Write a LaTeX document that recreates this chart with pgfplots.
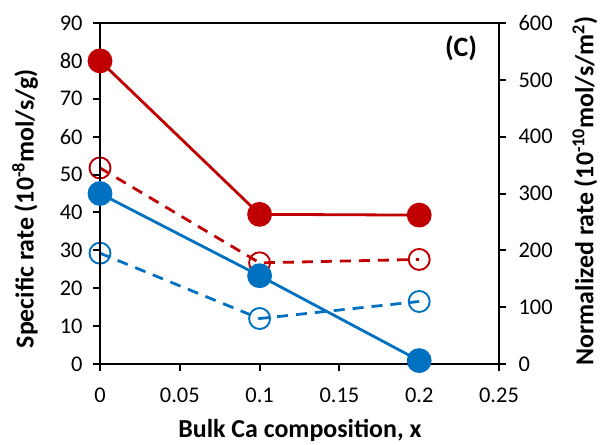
\documentclass[border=0pt]{standalone}
\usepackage{pgfplots}
\pgfplotsset{compat=1.18}
\usepackage{fontspec}
\setmainfont{Carlito}
\definecolor{cred}{HTML}{C00000}
\definecolor{cblue}{HTML}{0070C0}
\begin{document}
\begin{tikzpicture}
\useasboundingbox (-100bp,-81bp) rectangle (501bp,364bp);
\pgfplotsset{
  every axis/.append style={
    scale only axis, width=399bp, height=341bp,
    at={(0,0)}, anchor=south west,
    xmin=0, xmax=0.25, 
    tick align=outside, major tick length=7bp,
    every tick/.style={black, line width=2bp},
    axis line style={line width=2bp},
    tick label style={font=\fontsize{22.5}{26}\selectfont},
    label style={font=\bfseries\fontsize{26}{30}\selectfont},
    /pgf/number format/assume math mode=true,
  },
}
% right axis (normalized rate)
\begin{axis}[
  axis x line=none, axis y line*=right,
  ymin=0, ymax=600, ytick={0,100,...,600},
  yticklabel style={xshift=9bp},
  ylabel={Normalized rate (10\textsuperscript{-10}mol/s/m\textsuperscript{2})},
  ylabel style={at={(axis description cs:1.2155,0.508)}, anchor=center, rotate=0},
]
\addplot[cred, line width=2.8bp, dash pattern=on 11bp off 8bp, mark=o,
  mark options={solid, line width=1.9bp, fill=none}, mark size=10.5bp]
  coordinates {(0,345) (0.1,178) (0.2,184)};
\addplot[cblue, line width=2.8bp, dash pattern=on 11bp off 8bp, mark=o,
  mark options={solid, line width=1.9bp, fill=none}, mark size=10.5bp]
  coordinates {(0,195) (0.1,80) (0.2,110)};
\end{axis}
% left axis (specific rate)
\begin{axis}[
  ymin=0, ymax=90, ytick={0,10,...,90},
  xtick={0,0.05,0.1,0.15,0.2,0.25},
  xticklabels={0,0.05,0.1,0.15,0.2,0.25},
  xtick pos=bottom, ytick pos=left,
  xticklabel style={yshift=-13bp},
  yticklabel style={xshift=-7bp},
  xlabel={Bulk Ca composition, x},
  xlabel style={at={(axis description cs:0.501,-0.196)}, anchor=center},
  ylabel={Specific rate (10\textsuperscript{-8}mol/s/g)},
  ylabel style={at={(axis description cs:-0.188,0.455)}, anchor=center, rotate=0},
  clip=false,
]
\addplot[cred, line width=2.8bp, mark=*, mark size=11bp,
  mark options={fill=cred, draw=cred}]
  coordinates {(0,80) (0.1,39.5) (0.2,39.3)};
\addplot[cblue, line width=2.8bp, mark=*, mark size=11bp,
  mark options={fill=cblue, draw=cblue}]
  coordinates {(0,45) (0.1,23.3) (0.2,0.9)};
\node[font=\bfseries\fontsize{28}{32}\selectfont] at (axis description cs:0.905,0.926) {(C)};
\end{axis}
\end{tikzpicture}
\end{document}
